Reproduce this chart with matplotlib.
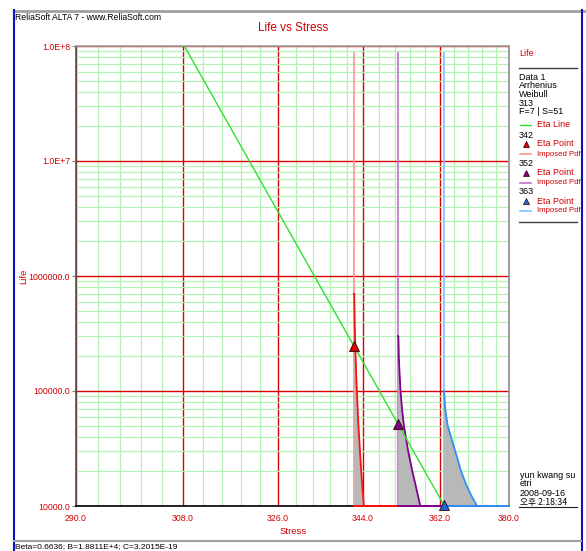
import matplotlib
matplotlib.use('Agg')
import matplotlib.pyplot as plt
import numpy as np
from matplotlib.lines import Line2D
from matplotlib.ticker import FixedLocator, NullFormatter, LogLocator

# ---------------- data ----------------
x_major = [290.0, 308.0, 326.0, 344.0, 362.0, 380.0]
x_minor = [293.6, 297.2, 300.8, 304.4, 311.6, 315.2, 318.8, 322.4, 329.6, 333.2,
           336.8, 340.4, 347.6, 351.2, 354.8, 358.4, 365.6, 369.2, 372.8, 376.4]
x_labels = ['290.0', '308.0', '326.0', '344.0', '362.0', '380.0']
y_major = [1e4, 1e5, 1e6, 1e7, 1e8]
y_labels = ['10000.0', '100000.0', '1000000.0', '1.0E+7', '1.0E+8']

stress_levels = [342, 352, 363]
eta_points = [2.47e5, 5.17e4, 1.03e4]

eta_line_stress = [308.3, 363.2]
eta_line_life = [1e8, 1e4]

# imposed pdf curves (stress position of the curve at each life)
pdf_top = 8.7e7
red_life = [7e5, 4e5, 2.5e5, 1.5e5, 1e5, 7e4, 5e4, 3e4, 2e4, 1.5e4, 1e4]
red_x = [342.08, 342.18, 342.31, 342.48, 342.66, 342.84, 343.01, 343.35, 343.63, 343.86, 344.22]
pur_life = [3e5, 2e5, 1.5e5, 1e5, 7e4, 5e4, 3e4, 2e4, 1.5e4, 1e4]
pur_x = [352.1, 352.2, 352.35, 352.6, 352.95, 353.4, 354.4, 355.4, 356.2, 357.3]
blu_life = [1e5, 7e4, 5e4, 3e4, 2e4, 1.5e4, 1.2e4, 1e4]
blu_x = [363.1, 363.4, 364.0, 365.9, 367.4, 368.8, 370.2, 371.5]

pdf_life = [red_life, pur_life, blu_life]
pdf_x = [red_x, pur_x, blu_x]
curve_colors = ['#ff1010', '#800090', '#3090f0']
base_colors = ['#ff9090', '#c070c8', '#80c0ff']
point_colors = ['#e00000', '#800080', '#2068d8']

# ---------------- figure ----------------
W, H = 586, 551
fig = plt.figure(figsize=(W / 100, H / 100), dpi=100)
fig.patch.set_facecolor('white')

def fx(p):
    return p / W

def fy(p):
    return 1 - p / H

FONT = 'Liberation Sans'
RED = '#d00000'

def fwd(x):
    x = np.asarray(x, dtype=float)
    with np.errstate(divide='ignore', invalid='ignore'):
        return -1.0 / x

def inv(y):
    y = np.asarray(y, dtype=float)
    with np.errstate(divide='ignore', invalid='ignore'):
        return -1.0 / y

ax = fig.add_axes([fx(75.7), fy(506), (509 - 75.7) / W, (506 - 46) / H])
ax.set_xscale('function', functions=(fwd, inv))
ax.set_yscale('log')
ax.set_xlim(290, 380)
ax.set_ylim(1e4, 1e8)

ax.xaxis.set_major_locator(FixedLocator(x_major))
ax.xaxis.set_minor_locator(FixedLocator(x_minor))
ax.set_xticklabels(x_labels)
ax.xaxis.set_minor_formatter(NullFormatter())
ax.yaxis.set_major_locator(FixedLocator(y_major))
ax.set_yticklabels(y_labels)
ax.yaxis.set_minor_locator(LogLocator(base=10, subs=[2, 3, 4, 5, 6, 7, 8, 9], numticks=20))
ax.yaxis.set_minor_formatter(NullFormatter())

ax.set_axisbelow(True)
ax.grid(which='minor', color='#b4f2b4', lw=0.9)
ax.grid(which='major', color='#d80000', lw=1.0)

for lab in ax.get_xticklabels() + ax.get_yticklabels():
    lab.set_color(RED)
    lab.set_fontsize(6.3)
    lab.set_family(FONT)
ax.tick_params(axis='x', which='both', length=0, pad=6)
ax.tick_params(axis='y', which='major', length=3, color='#808080', pad=1)
ax.tick_params(axis='y', which='minor', length=0)

ax.spines['left'].set_color('#505050')
ax.spines['bottom'].set_color('#000000')
ax.spines['top'].set_color('#a0a0a0')
ax.spines['right'].set_color('#909090')
for s in ax.spines.values():
    s.set_linewidth(1.2)

# imposed pdfs
for i, s in enumerate(stress_levels):
    ax.plot([s, s], [pdf_top, 1e4], color=base_colors[i], lw=1.2, zorder=3)
for i, s in enumerate(stress_levels):
    life = [pdf_life[i][0]] + pdf_life[i]
    xs = [s] + pdf_x[i]
    ax.fill_betweenx(life, [s] * len(life), xs, color='#b8b8b8', lw=0, zorder=3)
    ax.plot(xs, life, color=curve_colors[i], lw=1.3, zorder=4)
    ax.plot([s, 380], [1e4, 1e4], color=curve_colors[i], lw=1.4, zorder=5, clip_on=False)

# eta line
ax.plot(eta_line_stress, eta_line_life, color='#30e030', lw=1.0, zorder=6)
for i, s in enumerate(stress_levels):
    ax.plot([s], [eta_points[i]], marker='^', ms=6.5, color=point_colors[i],
            mec='#300000', mew=0.6, zorder=7, clip_on=False)

# titles
fig.text(fx(293), fy(28), 'Life vs Stress', color=RED, fontsize=8.5, family=FONT,
         ha='center', va='center')
fig.text(fx(15), fy(17), 'ReliaSoft ALTA 7 - www.ReliaSoft.com', color='black',
         fontsize=6.2, family=FONT, ha='left', va='center')
fig.text(fx(293), fy(532), 'Stress', color=RED, fontsize=6.8, family=FONT,
         ha='center', va='center')
fig.text(fx(24), fy(276), 'Life', color=RED, fontsize=6.8, family=FONT,
         ha='center', va='center', rotation=90)
fig.text(fx(15), fy(547), 'Beta=0.6636; B=1.8811E+4; C=3.2015E-19', color='black',
         fontsize=6.0, family=FONT, ha='left', va='center')

# legend panel
def ftext(x, y, s, color='black', size=6.5):
    fig.text(fx(x), fy(y), s, color=color, fontsize=size, family=FONT,
             ha='left', va='center')

ftext(519, 54, 'Life', RED)
fig.add_artist(Line2D([fx(519), fx(577)], [fy(67.5), fy(67.5)], color='#404040', lw=1.0))
ftext(519, 77, 'Data 1')
ftext(519, 86, 'Arrhenius')
ftext(519, 94.5, 'Weibull')
ftext(519, 103, '313')
ftext(519, 111.5, 'F=7 | S=51')
fig.add_artist(Line2D([fx(520), fx(531)], [fy(124.5), fy(124.5)], color='#30e030', lw=1.0))
ftext(537, 124.5, 'Eta Line', RED)
rows = [(135, '342'), (163.5, '352'), (192, '363')]
for i, (yy, lab) in enumerate(rows):
    ftext(519, yy, lab)
    fig.add_artist(Line2D([fx(526)], [fy(yy + 9)], marker='^', ms=5, color=point_colors[i],
                          mec='#300000', mew=0.5, lw=0))
    ftext(537, yy + 9, 'Eta Point', RED)
    fig.add_artist(Line2D([fx(520), fx(531)], [fy(yy + 19), fy(yy + 19)],
                          color=base_colors[i], lw=1.2))
    ftext(537, yy + 19, 'Imposed Pdf', RED, size=5.6)
fig.add_artist(Line2D([fx(519), fx(577)], [fy(222), fy(222)], color='#404040', lw=1.0))

ftext(520, 475, 'yun kwang su')
ftext(520, 484, 'etri')
ftext(520, 493, '2008-09-16')
fig.text(fx(520), fy(502), '오후 2:18:34', color='black', fontsize=6.3,
         family=['Noto Sans CJK KR', 'DejaVu Sans'], ha='left', va='center')
fig.add_artist(Line2D([fx(519), fx(577)], [fy(507), fy(507)], color='#202020', lw=0.8))

# window frame
fig.add_artist(Line2D([fx(14), fx(586)], [fy(11), fy(11)], color='#a0a0a0', lw=2.0, zorder=11))
fig.add_artist(Line2D([fx(13.5), fx(13.5)], [fy(10), fy(551)], color='#1010c0', lw=1.5, zorder=11))
fig.add_artist(Line2D([fx(581.5), fx(581.5)], [fy(10), fy(551)], color='#1010c0', lw=1.5, zorder=11))
fig.add_artist(Line2D([fx(14), fx(581)], [fy(541), fy(541)], color='#a0a0a0', lw=1.5, zorder=11))

fig.savefig('out.png', dpi=100)
